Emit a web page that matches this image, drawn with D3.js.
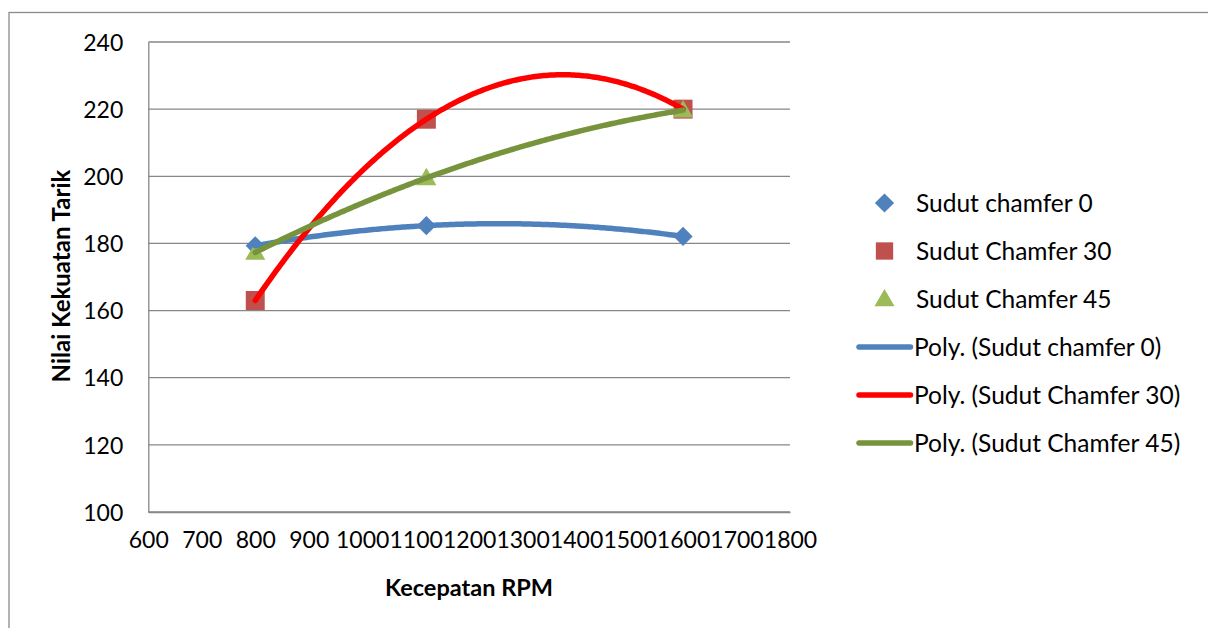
<!DOCTYPE html>
<html>
<head>
<meta charset="utf-8">
<script src="https://cdn.jsdelivr.net/npm/d3@7"></script>
<style>
  html, body { margin: 0; padding: 0; background: #fff; }
  svg { display: block; }
  text { font-family: Lato, "Open Sans", sans-serif; fill: #000; }
</style>
</head>
<body>
<svg id="chart" width="1208" height="628"></svg>
<script>
// Rotational speed (RPM) at which each specimen was tested
const rpm = [800, 1120, 1600];

// Tensile strength per chamfer angle
const chamfer0  = [179.3, 185.3, 182.1];
const chamfer30 = [163.0, 217.0, 220.0];
const chamfer45 = [177.3, 199.5, 219.7];

// Axis ticks
const xTickValues = [600, 700, 800, 900, 1000, 1100, 1200, 1300, 1400, 1500, 1600, 1700, 1800];
const yTickValues = [100, 120, 140, 160, 180, 200, 220, 240];

const seriesNames = ["Sudut chamfer 0", "Sudut Chamfer 30", "Sudut Chamfer 45"];
const trendNames  = ["Poly. (Sudut chamfer 0)", "Poly. (Sudut Chamfer 30)", "Poly. (Sudut Chamfer 45)"];

const series = [
  { name: seriesNames[0], values: chamfer0,  marker: "diamond",  markerColor: "#4F81BD", lineColor: "#4F81BD", trend: trendNames[0] },
  { name: seriesNames[1], values: chamfer30, marker: "square",   markerColor: "#C0504D", lineColor: "#FF0000", trend: trendNames[1] },
  { name: seriesNames[2], values: chamfer45, marker: "triangle", markerColor: "#9BBB59", lineColor: "#77933C", trend: trendNames[2] }
];

const svg = d3.select("#chart");

// Outer frame of the chart object
svg.append("rect")
  .attr("x", 9).attr("y", 12.5)
  .attr("width", 1300).attr("height", 700)
  .attr("fill", "none").attr("stroke", "#8a8a8a").attr("stroke-width", 1.3);

const plot = { left: 148.3, right: 790, top: 42, bottom: 512 };

const x = d3.scaleLinear().domain([600, 1800]).range([plot.left, plot.right]);
const y = d3.scaleLinear().domain([100, 240]).range([plot.bottom, plot.top]);

// Horizontal gridlines
svg.append("g")
  .selectAll("line")
  .data(yTickValues)
  .join("line")
  .attr("x1", plot.left).attr("x2", plot.right)
  .attr("y1", d => y(d)).attr("y2", d => y(d))
  .attr("stroke", "#878787").attr("stroke-width", 1.3);

// Y axis
const yAxis = svg.append("g")
  .attr("transform", `translate(${plot.left},0)`)
  .call(d3.axisLeft(y).tickValues(yTickValues).tickSize(0).tickPadding(25).tickFormat(d3.format("d")));
yAxis.select(".domain").attr("stroke", "#878787").attr("stroke-width", 1.3);
yAxis.selectAll("text").attr("font-size", 23).attr("font-family", "Lato").attr("dy", "0.36em").attr("fill", "#000");

// X axis
const xAxis = svg.append("g")
  .attr("transform", `translate(0,${plot.bottom})`)
  .call(d3.axisBottom(x).tickValues(xTickValues).tickSize(0).tickPadding(28).tickFormat(d3.format("d")));
xAxis.select(".domain").attr("stroke", "#878787").attr("stroke-width", 1.3);
xAxis.selectAll("text").attr("font-size", 23).attr("font-family", "Lato").attr("dy", "0.36em").attr("fill", "#000");

// Axis titles
svg.append("text")
  .attr("x", 469).attr("y", 596)
  .attr("text-anchor", "middle")
  .attr("font-size", 23.5).attr("font-weight", "bold")
  .text("Kecepatan RPM");

svg.append("text")
  .attr("transform", "translate(70,276) rotate(-90)")
  .attr("text-anchor", "middle")
  .attr("font-size", 24).attr("font-weight", "bold")
  .text("Nilai Kekuatan Tarik");

// Marker shapes
const symbolFor = {
  diamond:  d3.symbol().type(d3.symbolSquare).size(185),
  square:   d3.symbol().type(d3.symbolSquare).size(360),
  triangle: d3.symbol().type(d3.symbolTriangle).size(175)
};
const rotFor = { diamond: 45, square: 0, triangle: 0 };

// Second-order least-squares polynomial fit (normal equations)
function polyFit2(xs, ys) {
  const n = xs.length;
  let s0 = n, s1 = 0, s2 = 0, s3 = 0, s4 = 0, t0 = 0, t1 = 0, t2 = 0;
  for (let i = 0; i < n; i++) {
    const a = xs[i], b = ys[i];
    s1 += a; s2 += a * a; s3 += a * a * a; s4 += a * a * a * a;
    t0 += b; t1 += a * b; t2 += a * a * b;
  }
  const M = [[s0, s1, s2, t0], [s1, s2, s3, t1], [s2, s3, s4, t2]];
  for (let c = 0; c < 3; c++) {
    for (let r = c + 1; r < 3; r++) {
      const f = M[r][c] / M[c][c];
      for (let k = c; k < 4; k++) M[r][k] -= f * M[c][k];
    }
  }
  const coef = [0, 0, 0];
  for (let r = 2; r >= 0; r--) {
    let s = M[r][3];
    for (let k = r + 1; k < 3; k++) s -= M[r][k] * coef[k];
    coef[r] = s / M[r][r];
  }
  return xv => coef[0] + coef[1] * xv + coef[2] * xv * xv;
}

// Markers
series.forEach(s => {
  svg.append("g")
    .selectAll("path")
    .data(rpm.map((r, i) => ({ r, v: s.values[i] })))
    .join("path")
    .attr("d", symbolFor[s.marker])
    .attr("transform", d => `translate(${x(d.r)},${y(d.v) + (s.marker === "triangle" ? 1.5 : 0)}) rotate(${rotFor[s.marker]})`)
    .attr("fill", s.markerColor);
});

// Trendlines
const line = d3.line().x(d => x(d[0])).y(d => y(d[1])).curve(d3.curveLinear);
series.forEach(s => {
  const f = polyFit2(rpm, s.values);
  const x0 = d3.min(rpm), x1 = d3.max(rpm);
  const pts = d3.range(0, 201).map(i => {
    const xv = x0 + (x1 - x0) * i / 200;
    return [xv, f(xv)];
  });
  svg.append("path")
    .attr("d", line(pts))
    .attr("fill", "none")
    .attr("stroke", s.lineColor)
    .attr("stroke-width", 5.5)
    .attr("stroke-linecap", "round")
    .attr("stroke-linejoin", "round");
});

// Legend
const legend = svg.append("g");
const legendX = 857, legendTextX = 916, legendY0 = 203, legendStep = 48;
series.forEach((s, i) => {
  const cy = legendY0 + i * legendStep;
  legend.append("path")
    .attr("d", s.marker === "square" ? d3.symbol().type(d3.symbolSquare).size(300)() : symbolFor[s.marker]())
    .attr("transform", `translate(884.5,${cy + (s.marker === "triangle" ? 1.5 : 0)}) rotate(${rotFor[s.marker]})`)
    .attr("fill", s.markerColor);
  legend.append("text")
    .attr("x", legendTextX).attr("y", cy)
    .attr("dy", "0.36em")
    .attr("font-size", 24.5)
    .text(s.name);
});
series.forEach((s, i) => {
  const cy = legendY0 + (i + 3) * legendStep;
  legend.append("line")
    .attr("x1", legendX + 2).attr("x2", 910.5)
    .attr("y1", cy).attr("y2", cy)
    .attr("stroke", s.lineColor).attr("stroke-width", 5.5)
    .attr("stroke-linecap", "round");
  legend.append("text")
    .attr("x", 914).attr("y", cy)
    .attr("dy", "0.36em")
    .attr("font-size", 24.5)
    .text(s.trend);
});
</script>
</body>
</html>
